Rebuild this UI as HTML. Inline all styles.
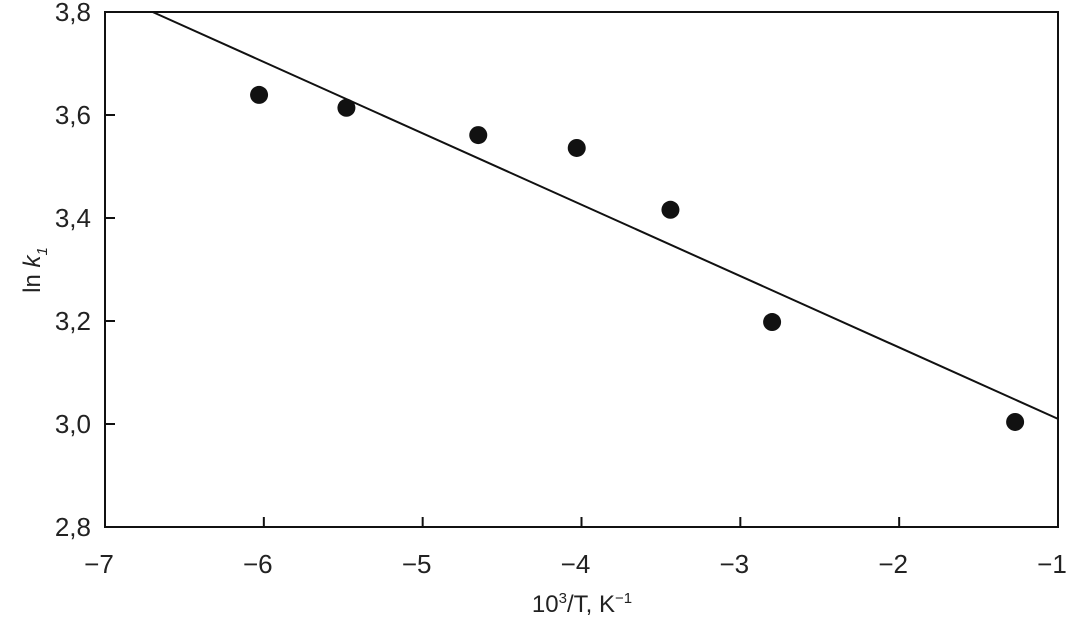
<!DOCTYPE html>
<html><head><meta charset="utf-8"><style>
body{margin:0;background:#fff}
svg{display:block}
text{font-family:"Liberation Sans",sans-serif;fill:#222}
</style></head><body>
<svg id="chart" width="1068" height="627" viewBox="0 0 1068 627"></svg>
<script>
const xTicks=[-7,-6,-5,-4,-3,-2,-1];
const xTickLabels=["\u22127","\u22126","\u22125","\u22124","\u22123","\u22122","\u22121"];
const yTicks=[2.8,3.0,3.2,3.4,3.6,3.8];
const yTickLabels=["2,8","3,0","3,2","3,4","3,6","3,8"];
const xValues=[-6.03,-5.48,-4.65,-4.03,-3.44,-2.80,-1.27];
const yValues=[3.639,3.614,3.561,3.536,3.416,3.198,3.004];
const fitX=[-6.70,-1];
const fitY=[3.80,3.01];

const L=105,R=1058,T=12,B=527;
const sx=v=>L+(v+7)/6*(R-L);
const sy=v=>B-(v-2.8)/1.0*(B-T);
const svg=document.getElementById('chart');
const NS='http://www.w3.org/2000/svg';
function mk(t,a){const e=document.createElementNS(NS,t);for(const k in a)e.setAttribute(k,a[k]);svg.appendChild(e);return e;}

const frame=mk('rect',{x:L,y:T,width:R-L,height:B-T,fill:'none',stroke:'#111','stroke-width':2});



xTicks.forEach((v,i)=>{
  const t=mk('line',{x1:sx(v),x2:sx(v),y1:B,y2:B-10,stroke:'#111','stroke-width':2});
  
  
  const l=mk('text',{x:sx(v)-6,y:B+46,'font-size':26,'text-anchor':'middle'});
  l.textContent=xTickLabels[i];
  
  
});
yTicks.forEach((v,i)=>{
  const t=mk('line',{x1:L,x2:L+10,y1:sy(v),y2:sy(v),stroke:'#111','stroke-width':2});
  
  
  const l=mk('text',{x:L-14,y:sy(v)+9,'font-size':26,'text-anchor':'end'});
  l.textContent=yTickLabels[i];
  
  
});

const fit=mk('line',{x1:sx(fitX[0]),y1:sy(fitY[0]),x2:sx(fitX[1]),y2:sy(fitY[1]),stroke:'#111','stroke-width':2});



xValues.forEach((v,i)=>{
  const c=mk('circle',{cx:sx(v),cy:sy(yValues[i]),r:9,fill:'#111'});
  
  
});

const xt=mk('text',{x:582,y:612,'font-size':24,'text-anchor':'middle'});
xt.innerHTML='10<tspan dy="-9" font-size="15">3</tspan><tspan dy="9">/T, K</tspan><tspan dy="-9" font-size="15">\u22121</tspan>';



const yt=mk('text',{x:0,y:0,'font-size':24,'text-anchor':'middle',transform:'translate(40,270) rotate(-90)'});
yt.innerHTML='ln <tspan font-style="italic">k</tspan><tspan dy="7" font-size="15" font-style="italic">1</tspan>';


</script>
</body></html>
